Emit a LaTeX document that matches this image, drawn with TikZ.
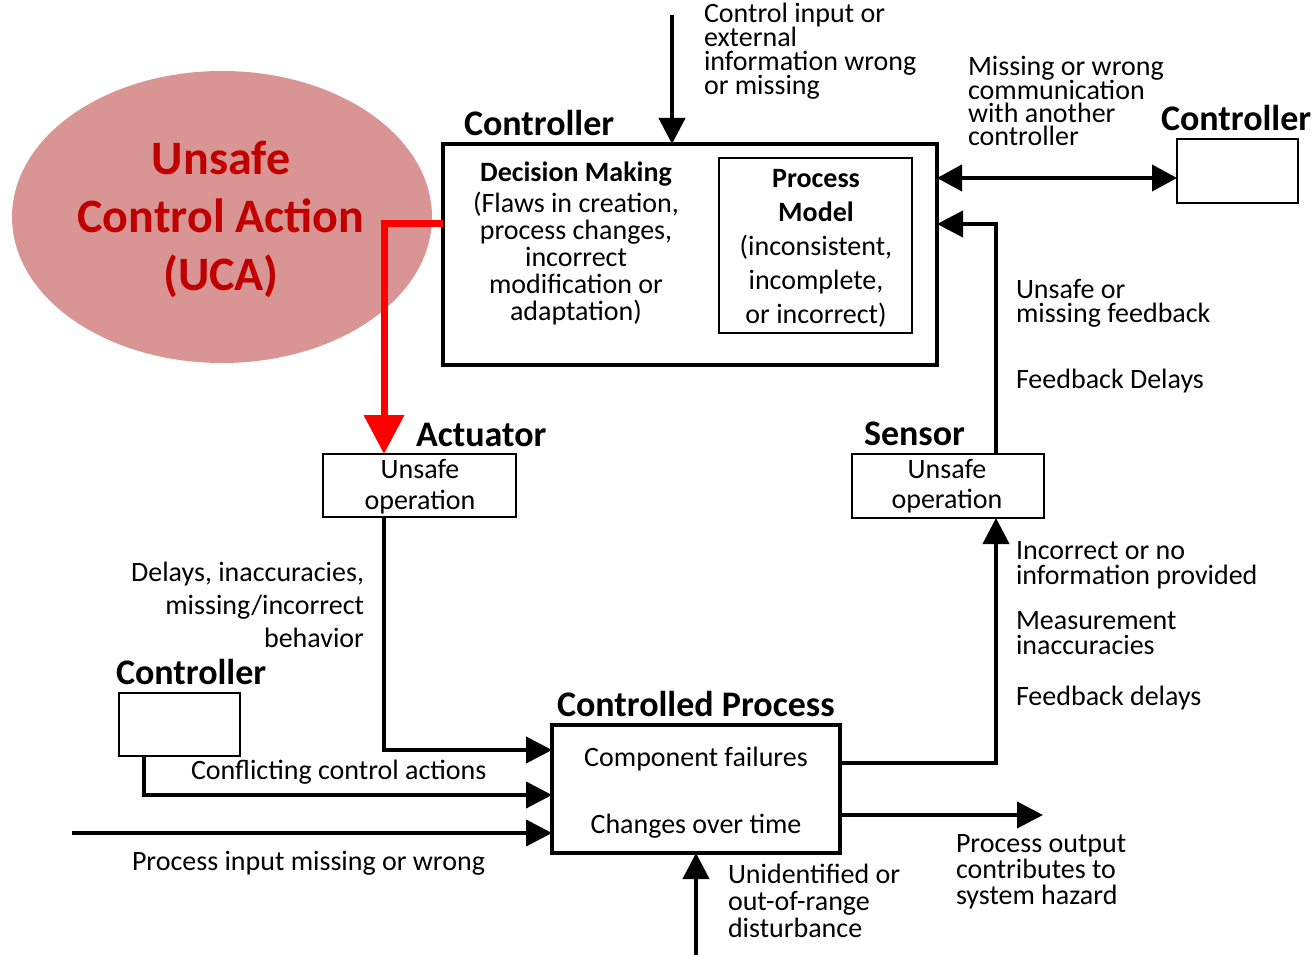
\documentclass[tikz,border=0pt]{standalone}
\usepackage{fontspec}
\setmainfont{Carlito}
\usetikzlibrary{arrows.meta,shapes.geometric}

% multi-line text blocks whose baseline is the first line's baseline
\newcommand\blkL[1]{\vtop{\lineskiplimit=-\maxdimen\halign{##\hfil\cr#1\crcr}}}
\newcommand\blkC[1]{\vtop{\lineskiplimit=-\maxdimen\halign{\hfil##\hfil\cr#1\crcr}}}
\newcommand\blkR[1]{\vtop{\lineskiplimit=-\maxdimen\halign{\hfil##\cr#1\crcr}}}

\definecolor{ucafill}{RGB}{217,149,148}
\definecolor{ucatext}{RGB}{192,0,0}

\tikzset{
  sz/.style 2 args={font=\fontsize{#1}{#2}\selectfont},
  txt/.style={inner sep=0pt, outer sep=0pt},
  title/.style={txt, anchor=base west, font=\fontsize{36}{40}\selectfont\bfseries},
  bigbox/.style={draw, line width=4pt, inner sep=0pt, outer sep=0pt},
  smallbox/.style={draw, line width=2pt, inner sep=0pt, outer sep=0pt},
  arr/.style={line width=4pt, -{Triangle[length=26pt,width=26pt]}},
  darr/.style={line width=4pt, {Triangle[length=25pt,width=26pt]}-{Triangle[length=25pt,width=26pt]}},
  redarr/.style={draw=red, line width=7pt, -{Triangle[length=39pt,width=39pt]}, red},
}

\begin{document}
\begin{tikzpicture}[x=1pt,y=-1pt]
\useasboundingbox (0,0) rectangle (1315,955);

% Unsafe control action bubble
\node[ellipse, fill=ucafill, minimum width=420pt, minimum height=292pt, inner sep=0pt] (uca) at (222,217) {};
\node[txt, anchor=base, font=\fontsize{48}{58}\selectfont\bfseries, text=ucatext] (ucat) at (221,175)
  {\blkC{Unsafe\cr Control Action\cr (UCA)}};

% main controller
\node[bigbox, minimum width=494pt, minimum height=221pt] (ctrl) at (690,254.5) {};
\node[title] (ctrlT) at (464,136) {Controller};
\node[smallbox, line width=2.5pt, minimum width=193pt, minimum height=175pt] (pm) at (815.5,245.5) {};
\node[txt, anchor=base, sz={28}{27}] (dm) at (576,182)
  {\blkC{\textbf{Decision Making}\cr\noalign{\kern4pt}(Flaws in creation,\cr process changes,\cr incorrect\cr modification or\cr adaptation)}};
\node[txt, anchor=base, sz={28}{34}] (pmt) at (816,187)
  {\blkC{\textbf{Process}\cr \textbf{Model}\cr (inconsistent,\cr incomplete,\cr or incorrect)}};

% control input from above
\coordinate (inTop) at (672,15);
\draw[arr] (inTop) -- (inTop |- ctrl.north);
\node[txt, anchor=base west, sz={28}{23.7}] (inT) at (704,23)
  {\blkL{Control input or\cr external\cr information wrong\cr or missing}};

% other controller (right)
\node[smallbox, minimum width=121pt, minimum height=64pt] (ctrlR) at (1237.5,171) {};
\node[title] (ctrlRT) at (1161,131) {Controller};
\coordinate (commY) at (0,178);
\draw[darr] (ctrl.east |- commY) -- (ctrlR.west |- commY);
\node[txt, anchor=base west, sz={28}{23.3}] (commT) at (968,76)
  {\blkL{Missing or wrong\cr communication\cr with another\cr controller}};

% actuator and sensor
\node[smallbox, minimum width=193pt, minimum height=63pt] (act) at (419.5,485.5) {};
\node[title] (actT) at (416,446) {Actuator};
\node[txt, anchor=base, sz={28}{31}] (actt) at (420,478) {\blkC{Unsafe\cr operation}};
\node[smallbox, minimum width=192pt, minimum height=64pt] (sen) at (948,486) {};
\node[title] (senT) at (864,445) {Sensor};
\node[txt, anchor=base, sz={28}{30}] (sent) at (947,478) {\blkC{Unsafe\cr operation}};

% unsafe control action path
\draw[redarr] (ctrl.west |- 0,223) -| (act.north -| 384,0);

% feedback path
\coordinate (fbx) at (996,0);
\draw[arr] (sen.north -| fbx) |- (ctrl.east |- 0,224);
\node[txt, anchor=base west, sz={28}{24}] (fbT) at (1016,298) {\blkL{Unsafe or\cr missing feedback}};
\node[txt, anchor=base west, sz={28}{24}] (fdT) at (1016,388) {Feedback Delays};

% controlled process
\node[bigbox, minimum width=288pt, minimum height=128pt] (cp) at (696,789) {};
\node[title] (cpT) at (557,716) {Controlled Process};
\node[txt, anchor=base, sz={28}{34}] (cf) at (696,766) {Component failures};
\node[txt, anchor=base, sz={28}{34}] (ch) at (696,833) {Changes over time};

% actuator to process
\draw[arr] (act.south -| 384,0) |- (cp.west |- 0,750);
\node[txt, anchor=base east, sz={28}{33}] (delT) at (364,581)
  {\blkR{Delays, inaccuracies,\cr missing/incorrect\cr behavior}};

% conflicting controller (left)
\node[smallbox, minimum width=121pt, minimum height=63pt] (ctrlL) at (179.5,724.5) {};
\node[title] (ctrlLT) at (116,684) {Controller};
\draw[arr] (ctrlL.south -| 144,0) |- (cp.west |- 0,795);
\node[txt, anchor=base west, sz={28}{30}] (confT) at (191,779) {Conflicting control actions};

% process input
\coordinate (pin) at (72,833);
\draw[arr] (pin) -- (cp.west |- pin);
\node[txt, anchor=base west, sz={28}{30}] (pinT) at (132,870) {Process input missing or wrong};

% process to sensor
\draw[arr] (cp.east |- 0,763) -| (sen.south -| fbx);
\node[txt, anchor=base west, sz={28}{25}] (incT) at (1016,559) {\blkL{Incorrect or no\cr information provided}};
\node[txt, anchor=base west, sz={28}{25}] (meaT) at (1016,629) {\blkL{Measurement\cr inaccuracies}};
\node[txt, anchor=base west, sz={28}{25}] (fd2T) at (1016,705) {Feedback delays};

% process output
\coordinate (pout) at (1043,815);
\draw[arr] (cp.east |- pout) -- (pout);
\node[txt, anchor=base west, sz={28}{26}] (outT) at (956,852)
  {\blkL{Process output\cr contributes to\cr system hazard}};

% disturbance
\coordinate (dist) at (696,955);
\draw[arr] (dist) -- (cp.south);
\node[txt, anchor=base west, sz={28}{27}] (distT) at (728,883)
  {\blkL{Unidentified or\cr out-of-range\cr disturbance}};
\end{tikzpicture}
\end{document}
